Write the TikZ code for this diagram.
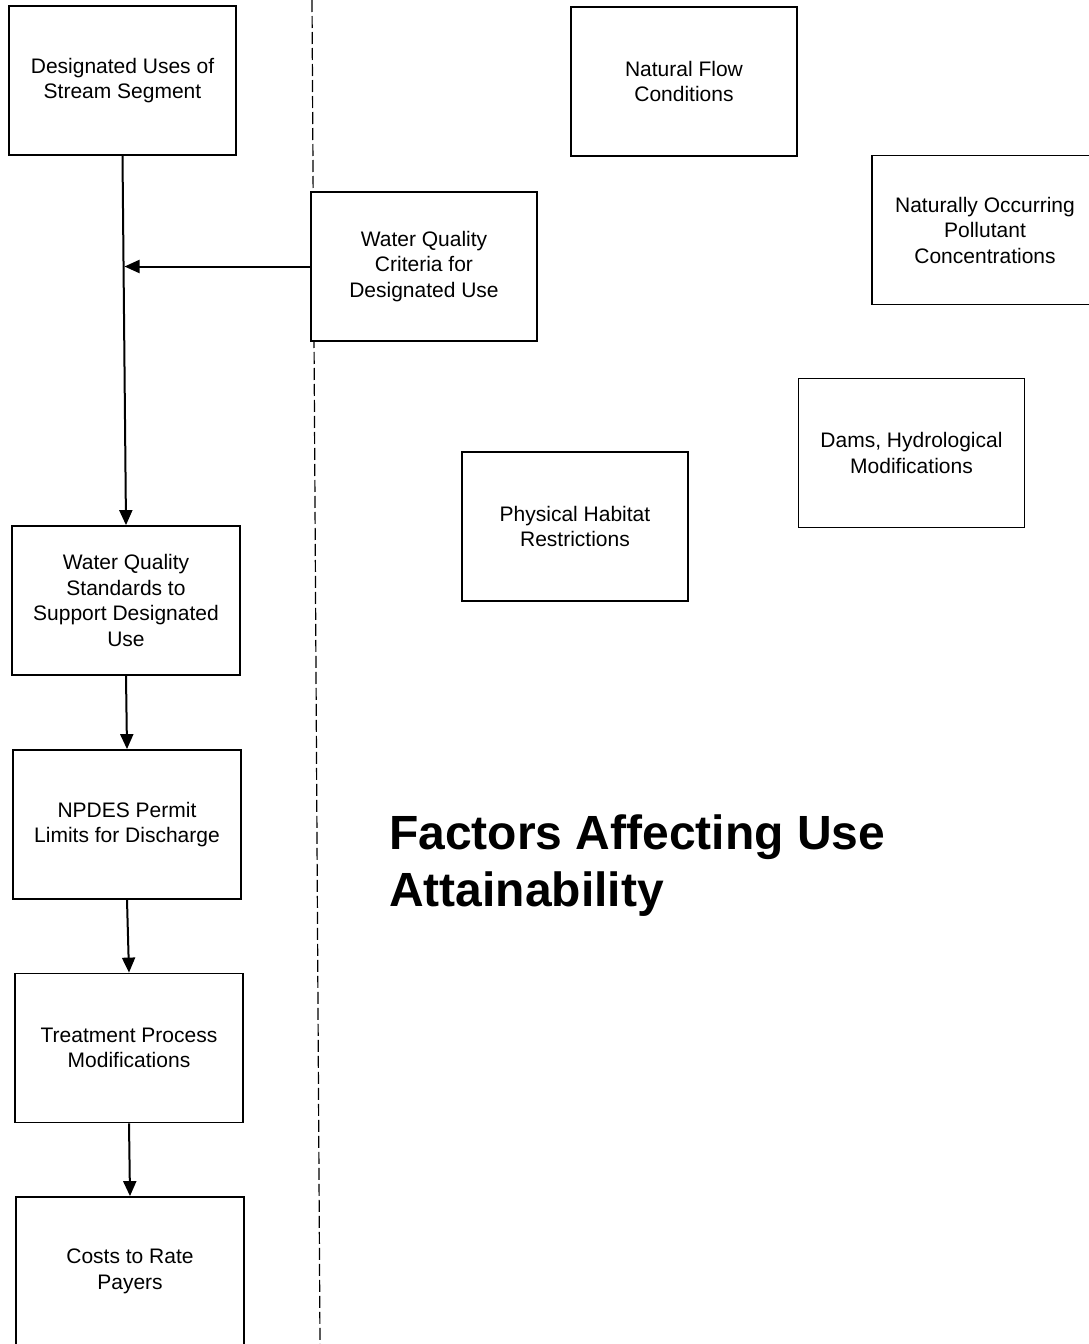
\documentclass[tikz,border=0pt]{standalone}
\usepackage{fontspec}
\setmainfont{Liberation Sans}
\usetikzlibrary{arrows.meta}
\begin{document}
\begin{tikzpicture}[x=1pt,y=-1pt,
  box/.style={draw, line width=1.8pt, minimum width=226pt, minimum height=149pt, inner sep=0pt,
    align=center, font=\fontsize{21}{25.5}\selectfont},
  flow/.style={line width=2pt, -{Triangle[length=15pt,width=13pt]}}]
\useasboundingbox (0,0) rectangle (1089,1344);
\clip (0,0) rectangle (1089,1344);
\fill[white] (0,0) rectangle (1089,1344);
\coordinate (dtop) at (312,0);
\coordinate (dbot) at (320,1344);
\draw[line width=1.2pt, dash pattern=on 12pt off 4pt] (dtop) -- (dbot);
\node[box, minimum width=227pt] (b1) at (122.5,80.5) {Designated Uses of\\Stream Segment};
\node[box, fill=white] (b2) at (424,266.5) {Water Quality\\Criteria for\\Designated Use};
\node[box] (b3) at (684,81.5) {Natural Flow\\Conditions};
\node[box] (b4) at (985,230) {Naturally Occurring\\Pollutant\\Concentrations};
\node[box] (b5) at (911.5,453) {Dams, Hydrological\\Modifications};
\node[box] (b6) at (575,526.5) {Physical Habitat\\Restrictions};
\node[box, minimum width=228pt] (b7) at (126,600.5) {Water Quality\\Standards to\\Support Designated\\Use};
\node[box, minimum width=228pt] (b8) at (127,824.5) {NPDES Permit\\Limits for Discharge};
\node[box, minimum width=228pt] (b9) at (129,1048) {Treatment Process\\Modifications};
\node[box, minimum width=228pt] (b10) at (130,1271.5) {Costs to Rate\\Payers};
\node[anchor=north west, align=left, inner sep=0pt, font=\bfseries\fontsize{48}{57}\selectfont] (title) at (389,815)
  {Factors Affecting Use\\Attainability};
\draw[flow] (b1.south) -- (b7.north);
\coordinate (join) at (124.5,266.5);
\draw[flow] (b2.west) -- (join);
\draw[flow] (b7.south) -- (b8.north);
\draw[flow] (b8.south) -- (b9.north);
\draw[flow] (b9.south) -- (b10.north);
\end{tikzpicture}
\end{document}
